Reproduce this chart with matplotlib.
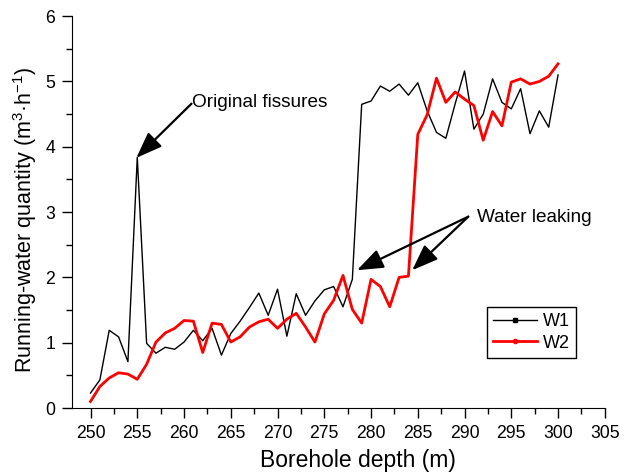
import matplotlib
matplotlib.use("Agg")
import matplotlib.pyplot as plt
from matplotlib.lines import Line2D
from matplotlib.ticker import MultipleLocator

plt.rcParams['font.family'] = ['Liberation Sans', 'DejaVu Sans']
plt.rcParams['mathtext.fontset'] = 'custom'
plt.rcParams['mathtext.rm'] = 'Liberation Sans'
plt.rcParams['mathtext.it'] = 'Liberation Sans:italic'

depth = list(range(250, 301))
w1 = [0.23, 0.43, 1.19, 1.09, 0.71, 3.84, 0.99, 0.84, 0.93, 0.90,
      1.01, 1.19, 1.03, 1.22, 0.81, 1.14, 1.33, 1.54, 1.76, 1.42,
      1.82, 1.10, 1.75, 1.42, 1.64, 1.81, 1.86, 1.55, 1.97, 4.65,
      4.70, 4.93, 4.85, 4.96, 4.79, 4.98, 4.55, 4.22, 4.13, 4.66,
      5.16, 4.27, 4.50, 5.04, 4.68, 4.58, 4.89, 4.20, 4.55, 4.30, 5.10]
w2 = [0.10, 0.33, 0.46, 0.54, 0.52, 0.44, 0.67, 1.01, 1.15, 1.22,
      1.34, 1.33, 0.85, 1.30, 1.28, 1.01, 1.09, 1.24, 1.32, 1.36,
      1.22, 1.36, 1.45, 1.24, 1.01, 1.44, 1.65, 2.03, 1.51, 1.30,
      1.97, 1.86, 1.55, 2.00, 2.02, 4.19, 4.49, 5.05, 4.68, 4.84,
      4.73, 4.63, 4.10, 4.54, 4.32, 4.99, 5.04, 4.96, 5.00, 5.08, 5.27]

fig = plt.figure(figsize=(6.3, 4.75), dpi=100)
ax = fig.add_axes([0.114, 0.141, 0.846, 0.825])

ax.plot(depth, w1, color='black', lw=1.0)
ax.plot(depth, w2, color='#ff0000', lw=2.0)

ax.set_xlim(248, 305)
ax.set_ylim(0, 6)
ax.xaxis.set_major_locator(MultipleLocator(5))
ax.xaxis.set_minor_locator(MultipleLocator(2.5))
ax.yaxis.set_major_locator(MultipleLocator(1))
ax.yaxis.set_minor_locator(MultipleLocator(0.5))
ax.tick_params(which='major', direction='out', length=7, width=1, labelsize=12.7, pad=5)
ax.tick_params(which='minor', direction='out', length=4, width=1)
for s in ['top', 'right']:
    ax.spines[s].set_visible(False)
ax.set_xticks(list(range(250, 306, 5)))

ax.set_xlabel('Borehole depth (m)', fontsize=16.5)
ax.xaxis.set_label_coords(0.537, -0.104)
ax.set_ylabel('Running-water quantity (m$^{3}$·h$^{-1}$)', fontsize=15.5)
ax.yaxis.set_label_coords(-0.061, 0.48)

aprops = dict(arrowstyle='-|>,head_length=0.8,head_width=0.3', color='black',
              lw=1.6, mutation_scale=20, shrinkA=0, shrinkB=0)
ax.text(260.9, 4.68, 'Original fissures', fontsize=13.7, va='center', ha='left')
ax.annotate('', xy=(254.9, 3.83), xytext=(260.8, 4.66), arrowprops=aprops)
ax.text(291.3, 2.92, 'Water leaking', fontsize=13.7, va='center', ha='left')
ax.annotate('', xy=(278.5, 2.11), xytext=(290.4, 2.93), arrowprops=aprops)
ax.annotate('', xy=(284.4, 2.11), xytext=(290.4, 2.93), arrowprops=aprops)

handles = [Line2D([], [], color='black', lw=1.0, marker='s', markersize=3),
           Line2D([], [], color='#ff0000', lw=2.0, marker='o', markersize=3)]
leg = fig.legend(handles, ['W1', 'W2'], loc='upper left', bbox_to_anchor=(0.773, 0.354),
                 fontsize=13, fancybox=False, edgecolor='black', framealpha=1,
                 handlelength=2.4, borderpad=0.35, labelspacing=0.25, handletextpad=0.35,
                 borderaxespad=0)
leg.get_frame().set_linewidth(1.0)

fig.savefig('out.png', dpi=100)
